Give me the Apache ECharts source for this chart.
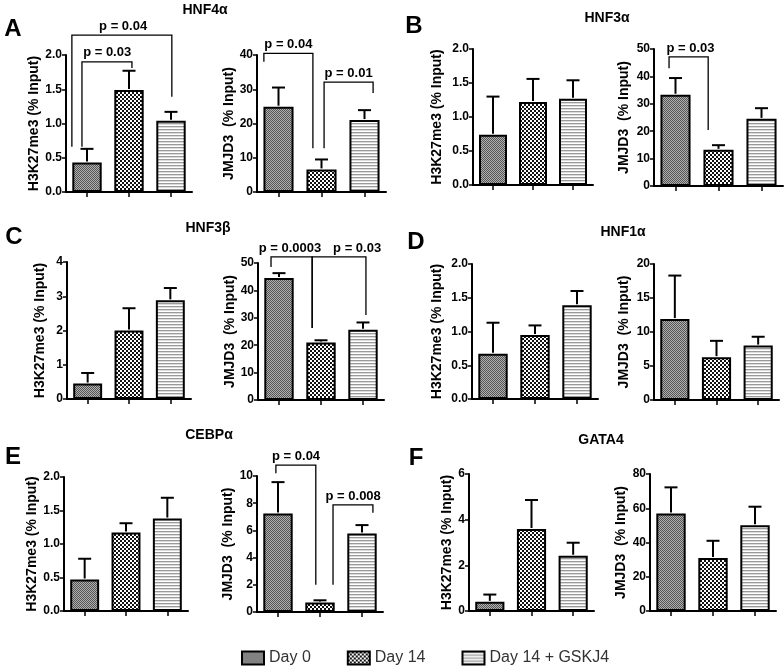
<!DOCTYPE html>
<html><head><meta charset="utf-8">
<script src="https://cdn.jsdelivr.net/npm/echarts@6/dist/echarts.min.js"></script>
<style>html,body{margin:0;padding:0;background:#fff}#c{width:784px;height:668px}</style>
</head><body><div id="c"></div>
<script>
// ---------- data ----------
const categories = ['Day 0', 'Day 14', 'Day 14 + GSKJ4'];
const panelLetters = ['A', 'B', 'C', 'D', 'E', 'F'];
const geneNames = ['HNF4α', 'HNF3α', 'HNF3β', 'HNF1α', 'CEBPα', 'GATA4'];
const leftAxisName = 'H3K27me3 (% Input)';
const rightAxisName = 'JMJD3  (% Input)';

const h3k27Mean = [[0.43, 1.49, 1.04], [0.74, 1.22, 1.27], [0.45, 2.00, 2.88], [0.67, 0.95, 1.39], [0.47, 1.17, 1.38], [0.40, 3.59, 2.42]];
const h3k27Sem  = [[0.20, 0.28, 0.13], [0.56, 0.34, 0.27], [0.31, 0.65, 0.36], [0.46, 0.14, 0.21], [0.31, 0.14, 0.31], [0.32, 1.27, 0.57]];
const jmjd3Mean = [[24.9, 6.6, 21.0], [33.3, 13.2, 24.5], [44.5, 21.0, 25.6], [11.9, 6.3, 8.0], [7.25, 0.69, 5.77], [57.0, 31.0, 50.1]];
const jmjd3Sem  = [[5.6, 2.9, 2.9], [6.1, 1.7, 3.9], [1.8, 0.8, 2.7], [6.4, 2.4, 1.3], [2.3, 0.17, 0.62], [15.2, 10.0, 10.8]];

const h3k27Max = [2, 2, 4, 2, 2, 6];
const h3k27Step = [0.5, 0.5, 1, 0.5, 0.5, 2];
const jmjd3Max = [40, 50, 50, 20, 10, 80];
const jmjd3Step = [10, 10, 10, 5, 2, 20];

// significance brackets (chart index: 2*panel + 0 left / 1 right)
const sigChart  = [0, 0, 1, 1, 3, 5, 5, 9, 9];
const sigLabels = ['p = 0.03', 'p = 0.04', 'p = 0.04', 'p = 0.01', 'p = 0.03', 'p = 0.0003', 'p = 0.03', 'p = 0.04', 'p = 0.008'];
const sigLegs = [
  [[-0.12, 0.66], [1.07, 1.81]],
  [[-0.36, 0.66], [2.02, 1.39]],
  [[-0.34, 38.0], [0.80, 12.8]],
  [[1.06, 12.8], [2.20, 28.9]],
  [[-0.15, 43.0], [0.76, 20.4]],
  [[-0.19, 48.5], [0.79, 26.3]],
  [[0.79, 26.3], [2.07, 31.0]],
  [[-0.05, 10.2], [0.90, 2.0]],
  [[1.31, 2.0], [2.26, 7.3]]
];
const sigTop    = [1.90, 2.29, 40.5, 32.1, 47.1, 52.2, 52.2, 10.8, 7.87];
const sigLabelX = [0.48, 0.86, 0.23, 1.63, 0.35, 0.26, 1.86, 0.43, 1.79];

// ---------- layout ----------
const FONT = 'Arial, "Liberation Sans", sans-serif';
const gridBoxes = [
  [66, 55, 192, 192], [257, 55, 386, 192], [473, 49, 593, 185], [654, 49, 783, 186],
  [67, 262, 191, 399], [258, 263, 384, 400], [472, 264, 598, 399], [654, 264, 779, 400],
  [64, 477, 188, 611], [257, 476, 383, 612], [469, 474, 594, 611], [650, 474, 776, 611]
];
const nameCenterDist = [27, 29, 37, 31, 28, 29, 36, 31, 24, 30, 22, 30];
const letterPos = [[13, 29], [414, 26], [14, 237], [416, 242], [13, 457], [416, 458]];
const titlePos = [[205, 10], [607, 18], [208, 228], [623, 232], [209, 435], [601, 440]];

function makePattern(kind) {
  const c = document.createElement('canvas');
  const ctx = c.getContext('2d');
  if (kind === 0) {
    c.width = 2; c.height = 2;
    ctx.fillStyle = '#b0b0b0'; ctx.fillRect(0, 0, 2, 2);
    ctx.fillStyle = '#555555'; ctx.fillRect(0, 0, 1, 1); ctx.fillRect(1, 1, 1, 1);
  } else if (kind === 1) {
    c.width = 4; c.height = 4;
    ctx.fillStyle = '#ffffff'; ctx.fillRect(0, 0, 4, 4);
    ctx.fillStyle = '#111111'; ctx.fillRect(0, 0, 2, 2); ctx.fillRect(2, 2, 2, 2);
  } else {
    c.width = 3; c.height = 3;
    ctx.fillStyle = '#ffffff'; ctx.fillRect(0, 0, 3, 3);
    ctx.fillStyle = '#9a9a9a'; ctx.fillRect(0, 0, 3, 1);
    ctx.fillStyle = '#dcdcdc'; ctx.fillRect(0, 1, 3, 1);
  }
  return { image: c, repeat: 'repeat' };
}
const patterns = [makePattern(0), makePattern(1), makePattern(2)];

const grids = [], xAxes = [], yAxes = [], series = [];
for (let c = 0; c < 12; c++) {
  const p = Math.floor(c / 2), right = c % 2 === 1;
  const b = gridBoxes[c];
  grids.push({ left: b[0], top: b[1], width: b[2] - b[0], height: b[3] - b[1], containLabel: false });
  xAxes.push({
    type: 'category', gridIndex: c, data: categories, position: 'bottom', z: 10,
    axisLine: { show: true, onZero: false, lineStyle: { color: '#000', width: 2 } },
    axisTick: { show: true, interval: 0, alignWithLabel: true, length: 5, lineStyle: { color: '#000', width: 1.5 } },
    axisLabel: { show: false, interval: 0 }, splitLine: { show: false }
  });
  xAxes.push({ type: 'value', gridIndex: c, min: -0.5, max: 2.5, show: false, position: 'top',
    axisLine: { onZero: false }, splitLine: { show: false } });
  const max = right ? jmjd3Max[p] : h3k27Max[p];
  const step = right ? jmjd3Step[p] : h3k27Step[p];
  yAxes.push({
    type: 'value', gridIndex: c, min: 0, max: max, interval: step, position: 'left', z: 10,
    name: right ? rightAxisName : leftAxisName,
    nameLocation: 'middle', nameRotate: 90, nameGap: nameCenterDist[c] - 8,
    nameTextStyle: { fontFamily: FONT, fontWeight: 'bold', fontSize: 14, color: '#000' },
    axisLine: { show: true, onZero: false, lineStyle: { color: '#000', width: 2 } },
    axisTick: { show: true, length: 4, lineStyle: { color: '#000', width: 1.5 } },
    axisLabel: {
      fontFamily: FONT, fontWeight: 'bold', fontSize: 12, color: '#000', margin: 4,
      formatter: v => (step < 1 ? v.toFixed(1) : String(v))
    },
    splitLine: { show: false }
  });
  const means = right ? jmjd3Mean[p] : h3k27Mean[p];
  const sems = right ? jmjd3Sem[p] : h3k27Sem[p];
  categories.forEach((name, k) => {
    series.push({
      type: 'bar', name: name, xAxisIndex: c * 2, yAxisIndex: c,
      data: categories.map((_, i) => (i === k ? means[i] : '-')),
      barWidth: '70%', barGap: '-100%',
      itemStyle: { color: patterns[k], borderColor: '#000', borderWidth: 2 },
      emphasis: { disabled: true }, silent: true
    });
  });
  series.push({
    type: 'custom', xAxisIndex: c * 2, yAxisIndex: c, z: 5, silent: true,
    data: means.map((m, i) => [i, m, m + sems[i]]),
    encode: { x: 0, y: [1, 2] },
    renderItem: (params, api) => {
      const p0 = api.coord([api.value(0), api.value(1)]);
      const p1 = api.coord([api.value(0), api.value(2)]);
      const st = { stroke: '#000', lineWidth: 2 };
      return { type: 'group', children: [
        { type: 'line', shape: { x1: p0[0], y1: p0[1] - 1, x2: p1[0], y2: p1[1] }, style: st },
        { type: 'line', shape: { x1: p1[0] - 6.5, y1: p1[1], x2: p1[0] + 6.5, y2: p1[1] }, style: st }
      ] };
    }
  });
  const idx = [];
  sigChart.forEach((ch, j) => { if (ch === c) idx.push(j); });
  if (idx.length) {
    series.push({
      type: 'custom', xAxisIndex: c * 2 + 1, yAxisIndex: c, z: 6, silent: true, clip: false,
      data: idx.map(j => [sigLegs[j][0][0], sigLegs[j][0][1], sigLegs[j][1][0], sigLegs[j][1][1], sigTop[j], sigLabelX[j], j]),
      encode: { x: [0, 2, 5], y: [1, 3, 4] },
      renderItem: (params, api) => {
        const a = api.coord([api.value(0), api.value(1)]);
        const bb = api.coord([api.value(2), api.value(3)]);
        const t = api.coord([api.value(0), api.value(4)])[1];
        const lx = api.coord([api.value(5), 0])[0];
        const j = api.value(6);
        return { type: 'group', children: [
          { type: 'polyline', shape: { points: [[a[0], a[1]], [a[0], t], [bb[0], t], [bb[0], bb[1]]] },
            style: { stroke: '#000', lineWidth: 1.3, fill: null } },
          { type: 'text', x: lx, y: t - 9,
            style: { text: sigLabels[j], font: 'bold 13px ' + FONT, fill: '#000', align: 'center', verticalAlign: 'middle' } }
        ] };
      }
    });
  }
}

const graphics = [];
panelLetters.forEach((L, i) => graphics.push({
  type: 'text', x: letterPos[i][0], y: letterPos[i][1],
  style: { text: L, font: 'bold 24px ' + FONT, fill: '#000', align: 'center', verticalAlign: 'middle' }
}));
geneNames.forEach((g, i) => graphics.push({
  type: 'text', x: titlePos[i][0], y: titlePos[i][1],
  style: { text: g, font: 'bold 14px ' + FONT, fill: '#000', align: 'center', verticalAlign: 'middle' }
}));

const chart = echarts.init(document.getElementById('c'), null, { renderer: 'canvas' });
chart.setOption({
  animation: false,
  backgroundColor: '#fff',
  grid: grids, xAxis: xAxes, yAxis: yAxes, series: series,
  graphic: graphics,
  legend: {
    data: categories, left: 236, top: 645, icon: 'rect',
    itemWidth: 22, itemHeight: 13, itemGap: 36,
    textStyle: { fontFamily: FONT, fontSize: 16, color: '#333' },
    selectedMode: false
  }
});
</script></body></html>
